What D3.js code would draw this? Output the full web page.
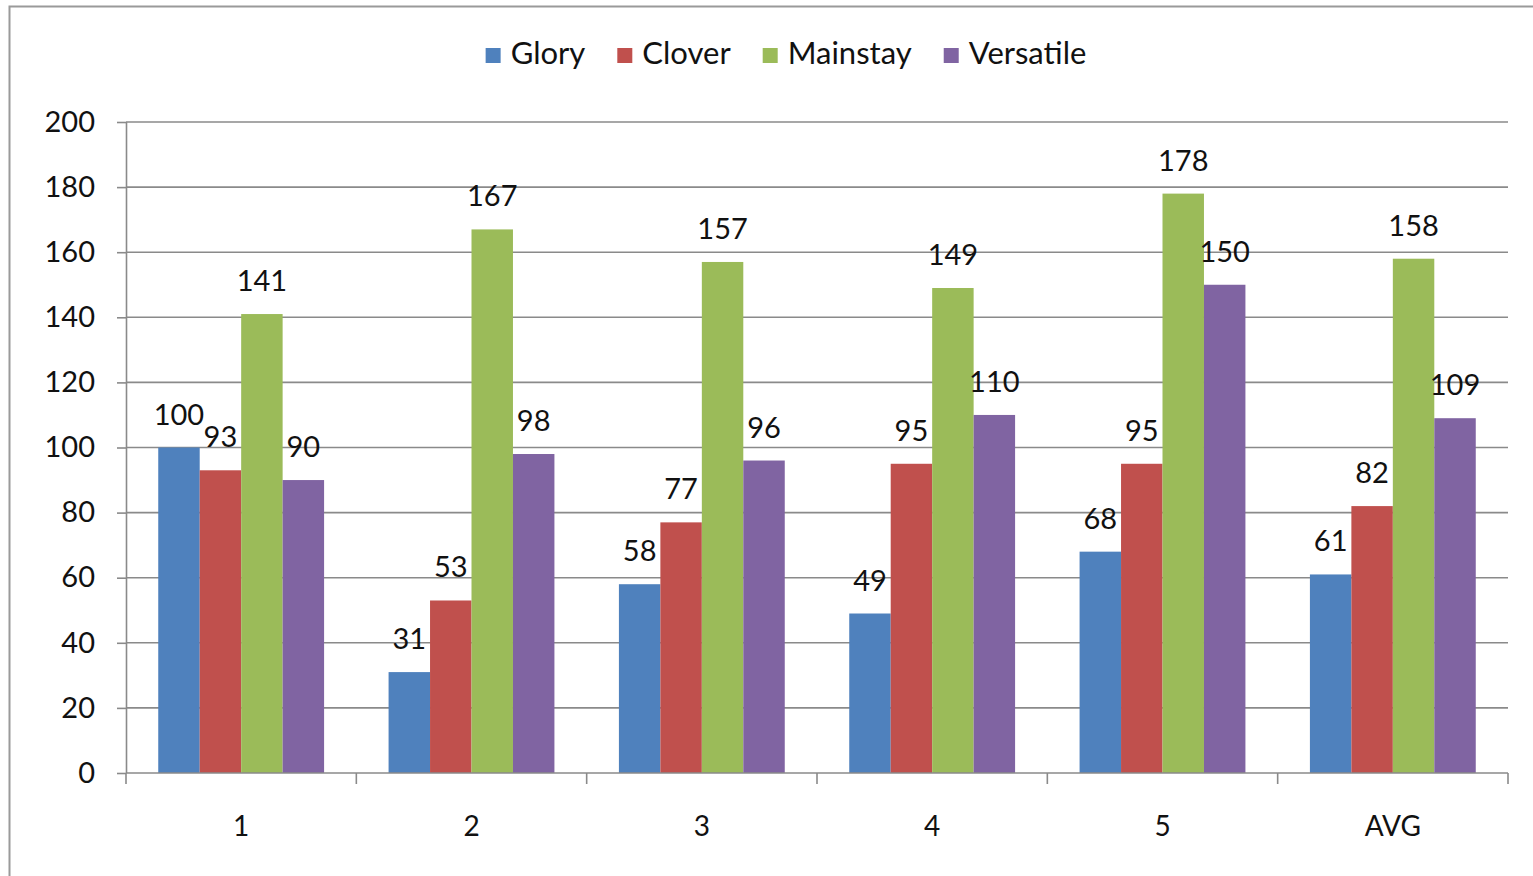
<!DOCTYPE html>
<html>
<head>
<meta charset="utf-8">
<script src="https://cdn.jsdelivr.net/npm/d3@7"></script>
<style>
  html, body { margin: 0; padding: 0; background: #fff; }
  svg { display: block; }
  text { font-family: Lato, "Open Sans", "Liberation Sans", sans-serif; fill: #111; }
</style>
</head>
<body>
<svg id="chart" width="1533" height="876"></svg>
<script>
// Chart data
const categories = ["1", "2", "3", "4", "5", "AVG"];
const seriesNames = ["Glory", "Clover", "Mainstay", "Versatile"];
const glory     = [100, 31, 58, 49, 68, 61];
const clover    = [93, 53, 77, 95, 95, 82];
const mainstay  = [141, 167, 157, 149, 178, 158];
const versatile = [90, 98, 96, 110, 150, 109];
const yTicks = [0, 20, 40, 60, 80, 100, 120, 140, 160, 180, 200];
const colors = ["#4F81BD", "#C0504D", "#9BBB59", "#8064A2"];

const seriesValues = [glory, clover, mainstay, versatile];

const svg = d3.select("#chart");
const W = 1533, H = 876;
const plot = { left: 126, right: 1508, top: 122, bottom: 773 };

// Outer chart frame
svg.append("rect")
  .attr("x", 9.5).attr("y", 6.5)
  .attr("width", W + 20).attr("height", H + 20)
  .attr("fill", "#fff")
  .attr("stroke", "#9a9a9a").attr("stroke-width", 2);

const x0 = d3.scaleBand().domain(categories).range([plot.left, plot.right]).padding(0);
const groupPad = 0.14;
const x1 = d3.scaleBand().domain(seriesNames)
  .range([x0.bandwidth() * groupPad, x0.bandwidth() * (1 - groupPad)]).padding(0);
const y = d3.scaleLinear().domain([0, 200]).range([plot.bottom, plot.top]);

// Horizontal gridlines
svg.append("g")
  .selectAll("line")
  .data(yTicks.filter(t => t > 0))
  .join("line")
  .attr("x1", plot.left).attr("x2", plot.right)
  .attr("y1", d => y(d)).attr("y2", d => y(d))
  .attr("stroke", "#8a8a8a").attr("stroke-width", 1.6);

// Bars
const groups = svg.append("g")
  .selectAll("g")
  .data(categories.map((c, i) => ({ c, vals: seriesValues.map((s, k) => ({ name: seriesNames[k], v: s[i], k })) })))
  .join("g")
  .attr("transform", d => `translate(${x0(d.c)},0)`);

groups.selectAll("rect")
  .data(d => d.vals)
  .join("rect")
  .attr("x", d => x1(d.name))
  .attr("width", x1.bandwidth())
  .attr("y", d => y(d.v))
  .attr("height", d => y(0) - y(d.v))
  .attr("fill", d => colors[d.k]);

// Y axis
const yAxis = svg.append("g")
  .attr("transform", `translate(${plot.left},0)`)
  .call(d3.axisLeft(y).tickValues(yTicks).tickSize(9).tickPadding(22).tickFormat(d3.format("d")));
yAxis.select(".domain").attr("stroke", "#8a8a8a").attr("stroke-width", 1.6).attr("d", `M0.5,${plot.top}V${plot.bottom}`);
yAxis.selectAll(".tick line").attr("stroke", "#8a8a8a").attr("stroke-width", 1.6);
yAxis.selectAll(".tick text")
  .attr("font-size", 29).attr("fill", "#111")
  .style("font-family", "Lato, 'Open Sans', sans-serif");

// X axis: baseline, category boundary ticks and labels
const xg = svg.append("g");
xg.append("line")
  .attr("x1", plot.left).attr("x2", plot.right)
  .attr("y1", y(0)).attr("y2", y(0))
  .attr("stroke", "#8a8a8a").attr("stroke-width", 1.6);
const bounds = categories.map(c => x0(c)).concat([plot.right]);
xg.selectAll("line.bound")
  .data(bounds)
  .join("line")
  .attr("class", "bound")
  .attr("x1", d => d).attr("x2", d => d)
  .attr("y1", y(0)).attr("y2", y(0) + 11)
  .attr("stroke", "#8a8a8a").attr("stroke-width", 1.6);
xg.selectAll("text")
  .data(categories)
  .join("text")
  .attr("x", d => x0(d) + x0.bandwidth() / 2)
  .attr("y", 826)
  .attr("dy", "0.35em")
  .attr("text-anchor", "middle")
  .attr("font-size", 28)
  .text(d => d);

// Data labels above bars
groups.selectAll("text.val")
  .data(d => d.vals)
  .join("text")
  .attr("class", "val")
  .attr("x", d => x1(d.name) + x1.bandwidth() / 2)
  .attr("y", d => y(d.v) - 23)
  .attr("text-anchor", "middle")
  .attr("font-size", 29)
  .text(d => d.v);

// Legend
const legend = svg.append("g");
const items = legend.selectAll("g")
  .data(seriesNames)
  .join("g");
items.append("rect")
  .attr("width", 15).attr("height", 15)
  .attr("y", -16)
  .attr("fill", (d, i) => colors[i]);
items.append("text")
  .attr("x", 25)
  .attr("y", 0)
  .attr("font-size", 31)
  .text(d => d);
let offset = 0;
const gap = 32;
const widths = [];
items.each(function () {
  const w = 25 + this.querySelector("text").getComputedTextLength();
  widths.push(w);
});
const total = d3.sum(widths) + gap * (widths.length - 1);
let start = 786 - total / 2;
items.attr("transform", (d, i) => {
  const xPos = start + offset;
  offset += widths[i] + gap;
  return `translate(${xPos},64)`;
});
</script>
</body>
</html>
